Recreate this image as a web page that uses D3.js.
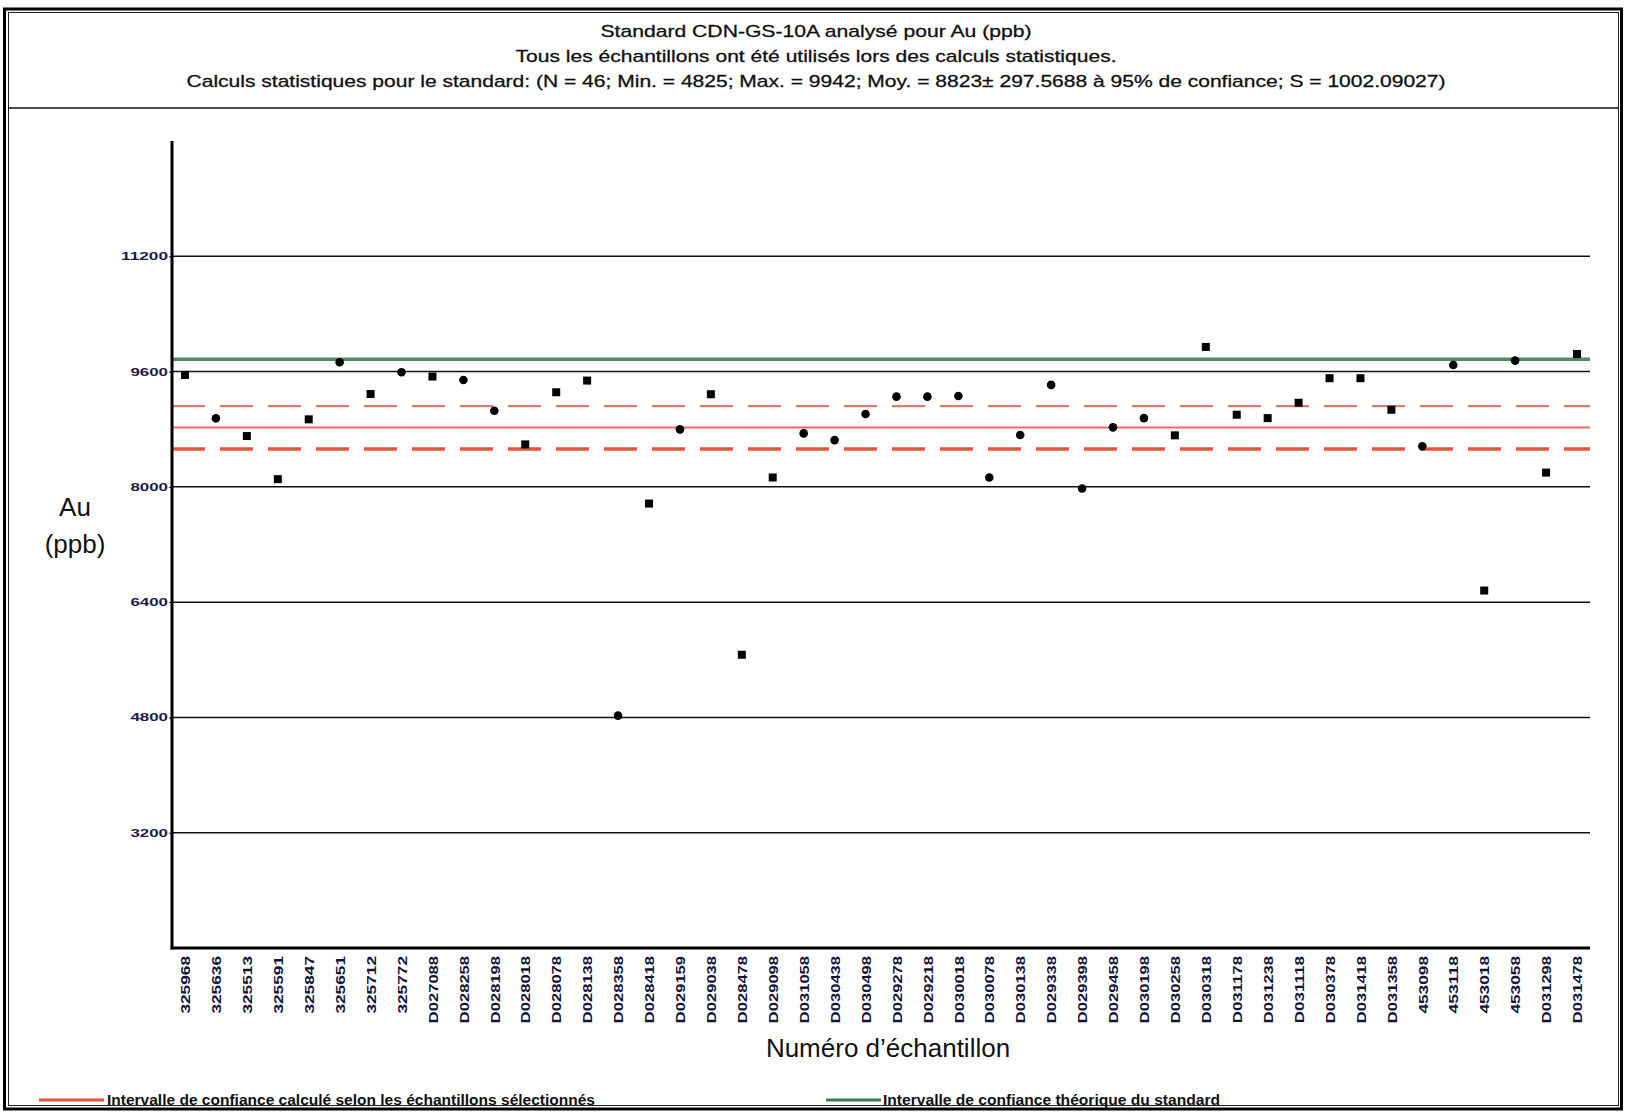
<!DOCTYPE html>
<html lang="fr">
<head>
<meta charset="utf-8">
<title>Standard CDN-GS-10A – Au (ppb)</title>
<script src="https://cdn.jsdelivr.net/npm/d3@7/dist/d3.min.js"></script>
<style>
  html, body { margin: 0; padding: 0; background: #fff; }
  svg { display: block; }
</style>
</head>
<body>
<svg id="chart" width="1625" height="1113"></svg>
<script>
// Sample numbers, in analysis order
const samples = [
  "325968", "325636", "325513", "325591", "325847", "325651", "325712", "325772",
  "D027088", "D028258", "D028198", "D028018", "D028078", "D028138", "D028358", "D028418",
  "D029159", "D029038", "D028478", "D029098", "D031058", "D030438", "D030498", "D029278",
  "D029218", "D030018", "D030078", "D030138", "D029338", "D029398", "D029458", "D030198",
  "D030258", "D030318", "D031178", "D031238", "D031118", "D030378", "D031418", "D031358",
  "453098", "453118", "453018", "453058", "D031298", "D031478"
];

// Au results (ppb) for each sample
const auValues = [
  9554, 8951, 8705, 8107, 8937, 9730, 9289, 9591,
  9531, 9484, 9057, 8589, 9313, 9475, 4825, 7768,
  8798, 9285, 5670, 8130, 8742, 8649, 9011, 9252,
  9252, 9262, 8130, 8719, 9415, 7977, 8826, 8954,
  8715, 9942, 9001, 8954, 9167, 9508, 9508, 9070,
  8563, 9692, 6561, 9752, 8198, 9844
];

// Marker glyph per sample
const markerShapes = [
  "square", "circle", "square", "square", "square", "circle", "square", "circle",
  "square", "circle", "circle", "square", "square", "square", "circle", "square",
  "circle", "square", "square", "square", "circle", "circle", "circle", "circle",
  "circle", "circle", "circle", "circle", "circle", "circle", "circle", "circle",
  "square", "square", "square", "square", "square", "square", "square", "square",
  "circle", "circle", "square", "circle", "square", "square"
];

// Y axis ticks (ppb)
const yTicks = [3200, 4800, 6400, 8000, 9600, 11200];
const yDomain = [1600, 12800];

// Statistics of the standard
const meanAu = 8823;
const ci95Au = 297.5688;
const theoreticalAu = 9771;

const titleLines = [
  "Standard CDN-GS-10A analysé pour Au (ppb)",
  "Tous les échantillons ont été utilisés lors des calculs statistiques.",
  "Calculs statistiques pour le standard: (N = 46; Min. = 4825; Max. = 9942; Moy. = 8823± 297.5688 à 95% de confiance; S = 1002.09027)"
];
const titleWidths = [431, 601, 1259];

const legendItems = [
  { label: "Intervalle de confiance calculé selon les échantillons sélectionnés", color: "#e2543c" },
  { label: "Intervalle de confiance théorique du standard", color: "#3d7f4c" }
];
const legendWidths = [488, 337];

const svg = d3.select("#chart");
const narrow = "'Liberation Sans Narrow', 'Arial Narrow', 'Liberation Sans', sans-serif";
const sans = "'Liberation Sans', Arial, sans-serif";

// Frame
svg.append("rect").attr("x", 4.5).attr("y", 9).attr("width", 1617).attr("height", 1100)
  .attr("fill", "none").attr("stroke", "#000").attr("stroke-width", 3);
svg.append("rect").attr("x", 8.5).attr("y", 12.5).attr("width", 1610).attr("height", 1093)
  .attr("fill", "none").attr("stroke", "#222").attr("stroke-width", 1);
svg.append("line").attr("x1", 8.5).attr("x2", 1618.5).attr("y1", 108).attr("y2", 108)
  .attr("stroke", "#111").attr("stroke-width", 1.5);

// Title block
svg.append("g").selectAll("text").data(titleLines).join("text")
  .attr("x", 816)
  .attr("y", (d, i) => 37 + i * 25)
  .attr("text-anchor", "middle")
  .attr("font-family", narrow)
  .attr("font-size", 17)
  .attr("fill", "#111")
  .attr("stroke", "#111").attr("stroke-width", 0.3)
  .attr("textLength", (d, i) => titleWidths[i])
  .attr("lengthAdjust", "spacingAndGlyphs")
  .text(d => d);

// Scales
const plotLeft = 172, plotRight = 1590, plotTop = 141, plotBottom = 948;
const x = d3.scalePoint().domain(samples).range([plotLeft, plotRight]).padding(0.42);
const y = d3.scaleLinear().domain(yDomain).range([plotBottom, plotTop]);

// Horizontal grid lines
svg.append("g").selectAll("line").data(yTicks).join("line")
  .attr("x1", plotLeft).attr("x2", plotRight)
  .attr("y1", d => y(d)).attr("y2", d => y(d))
  .attr("stroke", "#111").attr("stroke-width", 1.5);

// Theoretical confidence line of the standard
svg.append("line")
  .attr("x1", plotLeft).attr("x2", plotRight)
  .attr("y1", y(theoreticalAu)).attr("y2", y(theoreticalAu))
  .attr("stroke", "#3d7f4c").attr("stroke-width", 3.5).attr("opacity", 0.9);

// Calculated confidence interval: mean and ±95 % bounds
svg.append("line")
  .attr("x1", plotLeft).attr("x2", plotRight)
  .attr("y1", y(meanAu + ci95Au)).attr("y2", y(meanAu + ci95Au))
  .attr("stroke", "#e07a6c").attr("stroke-width", 2.2)
  .attr("stroke-dasharray", "33 15");
svg.append("line")
  .attr("x1", plotLeft).attr("x2", plotRight)
  .attr("y1", y(meanAu)).attr("y2", y(meanAu))
  .attr("stroke", "#e86a6a").attr("stroke-width", 2);
svg.append("line")
  .attr("x1", plotLeft).attr("x2", plotRight)
  .attr("y1", y(meanAu - ci95Au)).attr("y2", y(meanAu - ci95Au))
  .attr("stroke", "#e5553a").attr("stroke-width", 3.5)
  .attr("stroke-dasharray", "33 15");

// Y axis
const yAxis = svg.append("g")
  .attr("transform", `translate(${plotLeft},0)`)
  .call(d3.axisLeft(y).tickValues(yTicks).tickSize(3).tickPadding(1).tickFormat(d3.format("d")));
yAxis.select(".domain").remove();
yAxis.selectAll("text")
  .attr("font-family", narrow).attr("font-weight", "bold")
  .attr("font-size", 11).attr("fill", "#1c1c4a")
  .attr("textLength", d => String(d).length * 9.4)
  .attr("lengthAdjust", "spacingAndGlyphs");
yAxis.selectAll(".tick line").attr("stroke", "#111");

// X axis with vertical sample labels
const xAxis = svg.append("g")
  .attr("transform", `translate(0,${plotBottom})`)
  .call(d3.axisBottom(x).tickSize(0));
xAxis.select(".domain").remove();
xAxis.selectAll("text")
  .attr("transform", "rotate(-90)")
  .attr("text-anchor", "end")
  .attr("x", -8).attr("y", 0).attr("dy", "0.36em")
  .attr("font-family", sans).attr("font-weight", "bold")
  .attr("font-size", 13).attr("fill", "#14143a")
  .attr("textLength", d => d.length * 9.6)
  .attr("lengthAdjust", "spacingAndGlyphs");

// Axis lines
svg.append("line").attr("x1", plotLeft).attr("x2", plotLeft)
  .attr("y1", plotTop).attr("y2", plotBottom + 1.5)
  .attr("stroke", "#000").attr("stroke-width", 3);
svg.append("line").attr("x1", plotLeft - 1.5).attr("x2", plotRight)
  .attr("y1", plotBottom).attr("y2", plotBottom)
  .attr("stroke", "#000").attr("stroke-width", 3);

// Sample points
const pts = samples.map((s, i) => ({ s, v: auValues[i], shape: markerShapes[i] }));
const marks = svg.append("g");
marks.selectAll("rect").data(pts.filter(d => d.shape === "square")).join("rect")
  .attr("x", d => x(d.s) - 4).attr("y", d => y(d.v) - 4)
  .attr("width", 8).attr("height", 8).attr("fill", "#000");
marks.selectAll("circle").data(pts.filter(d => d.shape === "circle")).join("circle")
  .attr("cx", d => x(d.s)).attr("cy", d => y(d.v)).attr("r", 4.3)
  .attr("fill", "#000");

// Axis titles
svg.append("text").attr("x", 75).attr("y", 516).attr("text-anchor", "middle")
  .attr("font-family", sans).attr("font-size", 26).attr("fill", "#111").text("Au");
svg.append("text").attr("x", 75).attr("y", 553).attr("text-anchor", "middle")
  .attr("font-family", sans).attr("font-size", 26).attr("fill", "#111").text("(ppb)");
svg.append("text").attr("x", 888).attr("y", 1057).attr("text-anchor", "middle")
  .attr("font-family", sans).attr("font-size", 26).attr("fill", "#111")
  .text("Numéro d’échantillon");

// Legend
const legendX = [39, 826];
const legend = svg.append("g").selectAll("g").data(legendItems).join("g")
  .attr("transform", (d, i) => `translate(${legendX[i]},1100)`);
legend.append("line").attr("x1", 0).attr("x2", (d, i) => i === 0 ? 65 : 55)
  .attr("y1", 0).attr("y2", 0)
  .attr("stroke", d => d.color).attr("stroke-width", 3);
legend.append("text")
  .attr("x", (d, i) => i === 0 ? 68 : 57).attr("y", 5)
  .attr("font-family", narrow).attr("font-weight", "bold")
  .attr("font-size", 14).attr("fill", "#111")
  .attr("textLength", (d, i) => legendWidths[i])
  .attr("lengthAdjust", "spacingAndGlyphs")
  .text(d => d.label);
</script>
</body>
</html>
